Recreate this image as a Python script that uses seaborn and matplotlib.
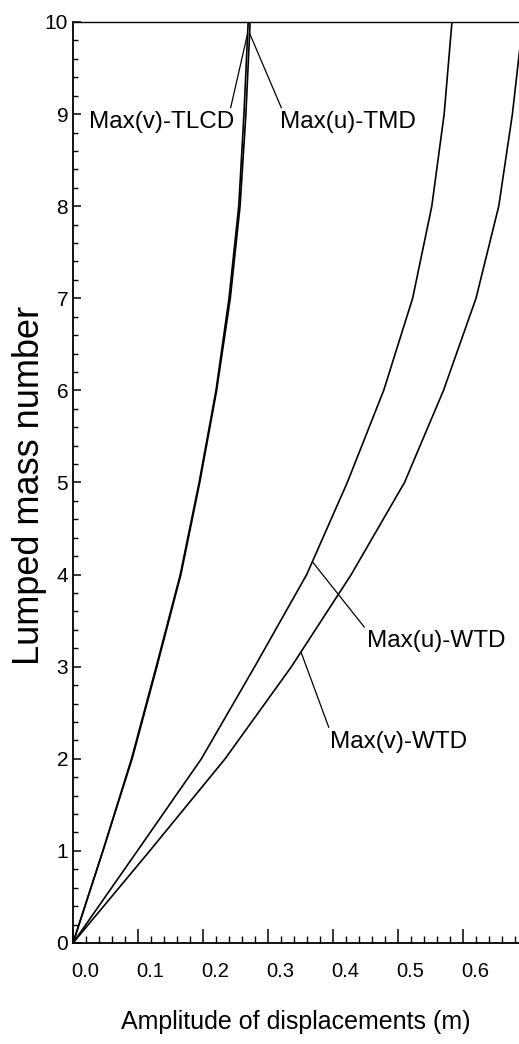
import numpy as np
import pandas as pd
import seaborn as sns
import matplotlib.pyplot as plt
from matplotlib.ticker import MultipleLocator
from matplotlib.transforms import ScaledTranslation

# lumped mass number (0 = base, 10 = top)
mass_number = [0, 1, 2, 3, 4, 5, 6, 7, 8, 9, 10]

# peak displacement amplitude (m)
max_u_tmd = [0, 0.046, 0.091, 0.129, 0.166, 0.195, 0.221, 0.242, 0.257, 0.266, 0.2725]
max_v_tlcd = [0, 0.046, 0.090, 0.128, 0.165, 0.194, 0.220, 0.240, 0.255, 0.263, 0.2695]
max_u_wtd = [0, 0.099, 0.1975, 0.2795, 0.3595, 0.422, 0.478, 0.5225, 0.552, 0.571, 0.583]
max_v_wtd = [0, 0.118, 0.234, 0.336, 0.428, 0.510, 0.570, 0.620, 0.655, 0.676, 0.692]

curve_names = ["Max(v)-TLCD", "Max(u)-TMD", "Max(u)-WTD", "Max(v)-WTD"]
curve_values = [max_v_tlcd, max_u_tmd, max_u_wtd, max_v_wtd]

x_ticks = [0.0, 0.1, 0.2, 0.3, 0.4, 0.5, 0.6]
y_ticks = [0, 1, 2, 3, 4, 5, 6, 7, 8, 9, 10]

df = pd.concat([pd.DataFrame({"mass": mass_number, "amp": vals, "curve": name})
                for name, vals in zip(curve_names, curve_values)], ignore_index=True)

sns.set_style("ticks")
plt.rcParams["font.family"] = ["Liberation Sans", "DejaVu Sans"]

fig = plt.figure(figsize=(5.19, 10.44), dpi=100)
ax = fig.add_axes([73 / 519, 101 / 1044, 446 / 519, 921 / 1044])

sns.lineplot(data=df, x="amp", y="mass", hue="curve", units="curve", estimator=None,
             sort=False, palette={n: "black" for n in curve_names}, linewidth=1.2,
             legend=False, ax=ax)

ax.set_xlim(0, 446 / 650)
ax.set_ylim(0, 10)
ax.set_xticks(x_ticks)
ax.set_xticklabels([f"{t:.1f}" for t in x_ticks])
ax.set_yticks(y_ticks)
ax.xaxis.set_minor_locator(MultipleLocator(0.02))
ax.yaxis.set_minor_locator(MultipleLocator(0.2))

ax.tick_params(axis="x", which="major", direction="in", length=10, width=1.1,
               pad=14, labelsize=14.5, colors="black")
ax.tick_params(axis="x", which="minor", direction="in", length=5, width=1.0, colors="black")
ax.tick_params(axis="y", which="major", direction="in", length=6, width=1.1,
               pad=3.5, labelsize=15, colors="black")
ax.tick_params(axis="y", which="minor", direction="in", length=3.6, width=1.0, colors="black")

# tick labels sit a little right of their ticks in the original
for lab in ax.get_xticklabels():
    lab.set_transform(lab.get_transform() + ScaledTranslation(0.12, 0, fig.dpi_scale_trans))

for side in ["left", "bottom"]:
    ax.spines[side].set_linewidth(1.3)
    ax.spines[side].set_color("black")
ax.spines["top"].set_linewidth(1.0)
ax.spines["top"].set_color("black")
ax.spines["right"].set_visible(False)

ax.set_xlabel("Amplitude of displacements (m)", fontsize=18, color="black")
ax.xaxis.set_label_coords(0.5, -0.073)
ax.set_ylabel("Lumped mass number", fontsize=26, color="black")
ax.yaxis.set_label_coords(-0.058, 0.497)

# labels with leader lines: (name, mass where leader meets curve, text x, text y, relpos)
labels = [
    ("Max(v)-TLCD", 9.877, 0.0246, 8.913, (0.97, 1.0)),
    ("Max(u)-TMD", 9.877, 0.3185, 8.913, (0.02, 1.0)),
    ("Max(u)-WTD", 4.14, 0.4523, 3.274, (0.0, 1.0)),
    ("Max(v)-WTD", 3.16, 0.3954, 2.186, (0.0, 1.0)),
]
for name, m, tx, ty, rp in labels:
    vals = curve_values[curve_names.index(name)]
    ax.annotate(name, xy=(np.interp(m, mass_number, vals), m), xytext=(tx, ty),
                ha="left", va="center", fontsize=17.5, color="black",
                arrowprops=dict(arrowstyle="-", color="black", lw=0.9,
                                shrinkA=0, shrinkB=0, relpos=rp))

fig.savefig("out.png", dpi=100)
